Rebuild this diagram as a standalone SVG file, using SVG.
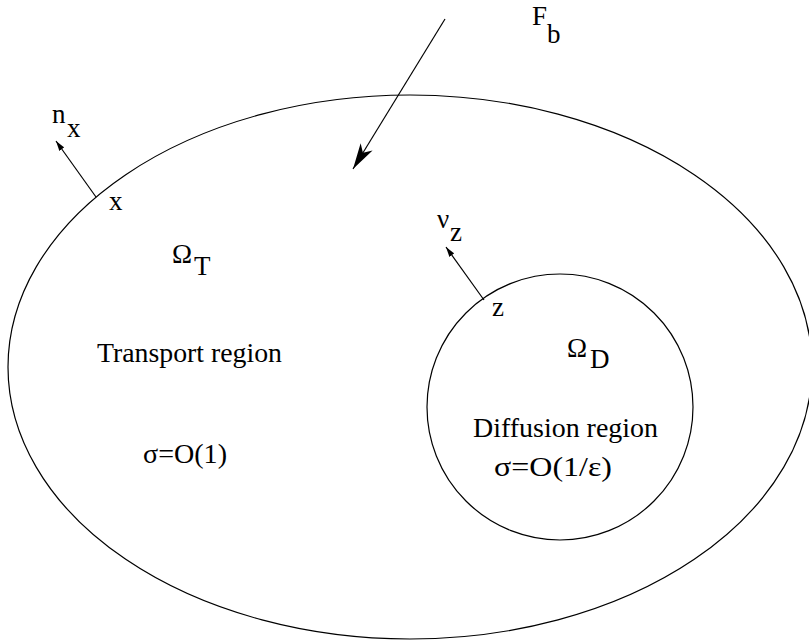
<svg xmlns="http://www.w3.org/2000/svg" width="809" height="642" viewBox="0 0 809 642">
<style>
  .t { font-family: "Liberation Serif", "Times New Roman", serif; font-size: 27px; fill: #000; }
  .shape { fill: none; stroke: #000; stroke-width: 1.2; }
  .conn { fill: none; stroke: #000; stroke-width: 1.2; }
</style>
<defs>
  <marker id="small" viewBox="0 0 10 6" refX="10" refY="3" markerWidth="10" markerHeight="6" markerUnits="userSpaceOnUse" orient="auto">
    <path d="M0,0 L10,3 L0,6 Z" fill="#000"/>
  </marker>
  <marker id="big" viewBox="0 0 26 14" refX="26" refY="7" markerWidth="26" markerHeight="14" markerUnits="userSpaceOnUse" orient="auto">
    <path d="M0,0 L26,7 L0,14 L7,7 Z" fill="#000"/>
  </marker>
</defs>
<rect width="809" height="642" fill="#fff"/>
<g id="transport-region">
  <ellipse class="shape" cx="410" cy="367" rx="402" ry="272"/>
  <text class="t" x="172" y="263">Ω</text>
  <text class="t" x="194" y="275">T</text>
  <text class="t" x="97" y="362" textLength="185" lengthAdjust="spacingAndGlyphs">Transport region</text>
  <text class="t" x="143" y="463" textLength="84" lengthAdjust="spacingAndGlyphs">σ=O(1)</text>
</g>
<g id="diffusion-region">
  <circle class="shape" cx="560" cy="407" r="133"/>
  <text class="t" x="567" y="357">Ω</text>
  <text class="t" x="590" y="368">D</text>
  <text class="t" x="473" y="437" textLength="185" lengthAdjust="spacingAndGlyphs">Diffusion region</text>
  <text class="t" x="494" y="476" textLength="118" lengthAdjust="spacingAndGlyphs">σ=O(1/ε)</text>
</g>
<g id="labels">
  <text class="t" x="532" y="25">F</text>
  <text class="t" x="547" y="43">b</text>
  <text class="t" x="52" y="123">n</text>
  <text class="t" x="67" y="137">x</text>
  <text class="t" x="109" y="210">x</text>
  <text class="t" x="437" y="228">ν</text>
  <text class="t" x="450" y="241">z</text>
  <text class="t" x="492" y="316">z</text>
</g>
<g id="connectors">
  <line class="conn" x1="445" y1="19" x2="353" y2="169" marker-end="url(#big)"/>
  <line class="conn" x1="96" y1="197" x2="56" y2="141" marker-end="url(#small)"/>
  <line class="conn" x1="484" y1="300" x2="446" y2="247" marker-end="url(#small)"/>
</g>
</svg>
